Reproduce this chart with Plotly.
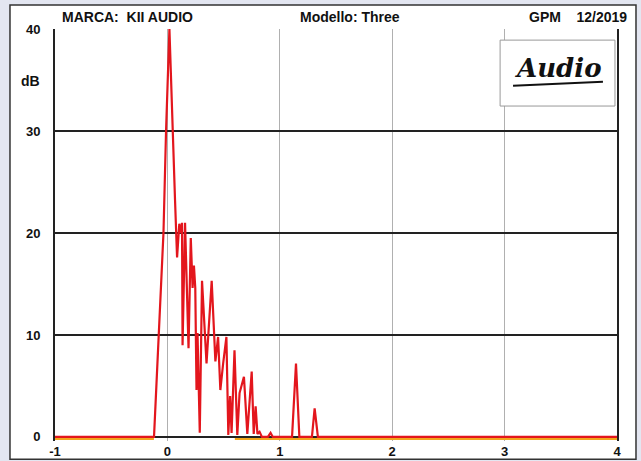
import plotly.graph_objects as go

# Waterfall/energy-time style trace (dB vs time, ms)
x_vals = [-1.0, -0.119, -0.035, -0.012, 0.018, 0.044, 0.068, 0.086, 0.106, 0.121,
          0.130, 0.135, 0.157, 0.188, 0.208, 0.224, 0.236, 0.248, 0.259, 0.268,
          0.288, 0.308, 0.348, 0.394, 0.427, 0.451, 0.471, 0.496, 0.525, 0.542,
          0.558, 0.571, 0.597, 0.622, 0.642, 0.681, 0.711, 0.750, 0.768, 0.785,
          0.801, 0.820, 0.841, 0.894, 0.918, 0.938, 1.109, 1.144, 1.174, 1.286,
          1.310, 1.339, 4.0]
db_vals = [0.0, 0.0, 20.0, 30.0, 40.0, 30.0, 23.2, 17.6, 20.9, 20.0,
           21.0, 9.0, 21.0, 8.7, 19.5, 14.6, 16.8, 14.6, 4.6, 10.2,
           0.4, 15.3, 7.2, 15.3, 7.4, 9.8, 4.6, 7.2, 9.8, 0.2,
           4.0, 0.4, 8.5, 0.2, 4.3, 5.9, 0.3, 6.4, 0.3, 3.0,
           0.3, 0.5, 0.0, 0.0, 0.4, 0.0, 0.0, 7.2, 0.0, 0.0,
           2.8, 0.0, 0.0]

floor_x = [-1.0, -0.12, None, 0.6, 4.0]
floor_db = [-0.2, -0.2, None, -0.2, -0.2]

x_ticks = [-1, 0, 1, 2, 3, 4]
y_ticks = [0, 10, 20, 30, 40]

FONT = "Liberation Sans"

fig = go.Figure()
fig.add_trace(go.Scatter(x=floor_x, y=floor_db, mode="lines",
                         line=dict(color="#f2a51c", width=2), hoverinfo="skip",
                         showlegend=False))
fig.add_trace(go.Scatter(x=x_vals, y=db_vals, mode="lines",
                         line=dict(color="#e3161d", width=2.2), showlegend=False))

tick_font = dict(family=FONT, size=13, weight="bold", color="#111")
fig.update_layout(
    width=641, height=461,
    margin=dict(l=55, r=24, t=29, b=20),
    paper_bgcolor="#e3e6f1",
    plot_bgcolor="rgba(0,0,0,0)",
    font=dict(family=FONT, size=12, color="#111111"),
    xaxis=dict(range=[-1, 4], tickvals=x_ticks, ticktext=[str(v) for v in x_ticks],
               showgrid=True, gridcolor="#b0b0b0", gridwidth=1,
               zeroline=False, showline=False, ticks="", automargin=False,
               tickfont=tick_font, ticklabelstandoff=1),
    yaxis=dict(range=[-0.4, 40], tickvals=y_ticks, ticktext=[str(v) for v in y_ticks],
               showgrid=True, gridcolor="#222222", gridwidth=1.6,
               zeroline=True, zerolinecolor="#222222", zerolinewidth=1.6,
               showline=True, mirror=True, linecolor="#222222", linewidth=1.8,
               ticks="", automargin=False, tickfont=tick_font, ticklabelstandoff=10),
)

# outer white frame
fig.add_shape(type="rect", xref="paper", yref="paper",
              x0=-0.0801, x1=1.0338, y0=-0.044, y1=1.058,
              line=dict(color="#333333", width=1.5), fillcolor="white", layer="below")

# logo box
fig.add_shape(type="rect", xref="paper", yref="paper",
              x0=0.792, x1=0.9964, y0=0.813, y1=0.973,
              line=dict(color="#999999", width=1), fillcolor="white", layer="above")
fig.add_annotation(xref="paper", yref="paper", x=0.894, y=0.905,
                   xanchor="center", yanchor="middle",
                   text="Audio", showarrow=False,
                   font=dict(family="DejaVu Serif", size=26, color="#111111",
                             style="italic", weight="bold"))
fig.add_shape(type="line", xref="paper", yref="paper",
              x0=0.815, x1=0.975, y0=0.862, y1=0.872,
              line=dict(color="#111111", width=2), layer="above")

hdr = dict(family=FONT, size=14, weight="bold", color="#111111")
fig.add_annotation(xref="paper", yref="paper", x=0.009, y=1.028, xanchor="left",
                   yanchor="middle", text="MARCA:  KII AUDIO", showarrow=False, font=hdr)
fig.add_annotation(xref="paper", yref="paper", x=0.525, y=1.028, xanchor="center",
                   yanchor="middle", text="Modello: Three", showarrow=False, font=hdr)
fig.add_annotation(xref="paper", yref="paper", x=1.021, y=1.028, xanchor="right",
                   yanchor="middle", text="GPM&nbsp;&nbsp;&nbsp;&nbsp;12/2019",
                   showarrow=False, font=hdr)
fig.add_annotation(xref="paper", yref="paper", x=-0.043, y=0.874, xanchor="center",
                   yanchor="middle", text="dB", showarrow=False, font=hdr)

fig.write_html("out.html")
